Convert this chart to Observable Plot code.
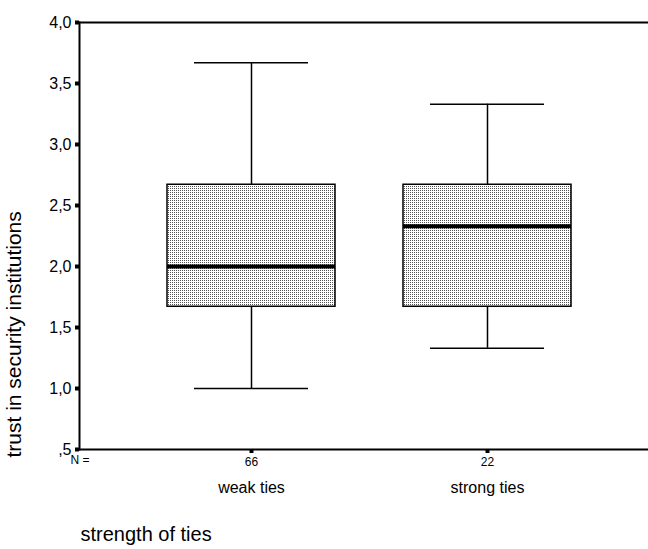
<!DOCTYPE html>
<html>
<head>
<meta charset="utf-8">
<script src="https://cdn.jsdelivr.net/npm/d3@7"></script>
<script src="https://cdn.jsdelivr.net/npm/@observablehq/plot@0.6"></script>
<style>
  html, body { margin: 0; background: white; overflow: hidden; }
  svg { overflow: hidden; }
</style>
</head>
<body>
<div id="chart"></div>
<script>
const categories = ["weak ties", "strong ties"];
const counts = [66, 22];
const lowWhisker = [1.0, 1.33];
const q1 = [1.67, 1.67];
const median = [2.0, 2.33];
const q3 = [2.67, 2.67];
const highWhisker = [3.67, 3.33];
const yTicks = [0.5, 1.0, 1.5, 2.0, 2.5, 3.0, 3.5, 4.0];
const yLabel = "trust in security institutions";
const xLabel = "strength of ties";
const nLabel = "N =";

const data = categories.map((c, i) => ({
  cat: c, n: counts[i], lo: lowWhisker[i], q1: q1[i], med: median[i], q3: q3[i], hi: highWhisker[i]
}));

const fmtY = d => {
  const s = d3.format(".1f")(d).replace(".", ",");
  return s.startsWith("0") ? s.slice(1) : s;
};

const chart = Plot.plot({
  width: 648,
  height: 549,
  marginLeft: 79,
  marginRight: 0,
  marginTop: 22,
  marginBottom: 100,
  style: { fontFamily: "'Liberation Sans', Arial, sans-serif", fontSize: "16px", background: "white", color: "black", overflow: "hidden" },
  x: { type: "band", domain: categories, range: [79, 658], paddingInner: 0.29, paddingOuter: 0.367 },
  y: { domain: [0.5, 4.0] },
  marks: [
    Plot.ruleY([0.5, 4.0], { stroke: "black", strokeWidth: 2 }),
    Plot.frame({ anchor: "left", stroke: "black", strokeWidth: 2 }),
    Plot.ruleX(data, { x: "cat", y1: "q3", y2: "hi", stroke: "black", strokeWidth: 1.5 }),
    Plot.ruleX(data, { x: "cat", y1: "lo", y2: "q1", stroke: "black", strokeWidth: 1.5 }),
    Plot.tickY(data, { x: "cat", y: "hi", insetLeft: 27, insetRight: 27, stroke: "black", strokeWidth: 1.5 }),
    Plot.tickY(data, { x: "cat", y: "lo", insetLeft: 27, insetRight: 27, stroke: "black", strokeWidth: 1.5 }),
    Plot.barY(data, { x: "cat", y1: "q1", y2: "q3", fill: "url(#stipple)", stroke: "black", strokeWidth: 1.5 }),
    Plot.tickY(data, { x: "cat", y: "med", stroke: "black", strokeWidth: 4 }),
    Plot.axisY({ ticks: yTicks, tickFormat: fmtY, tickSize: 4, tickPadding: 4, strokeWidth: 4, fontSize: 16, label: null }),
    Plot.axisX({ tickFormat: c => counts[categories.indexOf(c)], tickSize: 4, tickPadding: 4, strokeWidth: 4, fontSize: 12, label: null }),
    Plot.axisX({ tickSize: 0, tickPadding: 32, fontSize: 16, label: null }),
    Plot.text([nLabel], { frameAnchor: "bottom-left", textAnchor: "start", dx: -9, dy: 14, fontSize: 12, fill: "black" }),
    Plot.text([xLabel], { frameAnchor: "bottom-left", textAnchor: "start", dx: 1, dy: 91, fontSize: 20, fill: "black" }),
    Plot.text([yLabel], { frameAnchor: "bottom-left", textAnchor: "start", rotate: -90, dx: -59, dy: 8, fontSize: 21, fill: "black" })
  ]
});

// stipple pattern for the box fill
const ns = "http://www.w3.org/2000/svg";
const defs = document.createElementNS(ns, "defs");
const pat = document.createElementNS(ns, "pattern");
pat.setAttribute("id", "stipple");
pat.setAttribute("width", "2");
pat.setAttribute("height", "2");
pat.setAttribute("patternUnits", "userSpaceOnUse");
[["0", "0", "2", "2", "#ffffff"], ["0", "0", "1", "1", "#555555"]].forEach(([x, y, w, h, f]) => {
  const r = document.createElementNS(ns, "rect");
  r.setAttribute("x", x); r.setAttribute("y", y);
  r.setAttribute("width", w); r.setAttribute("height", h);
  r.setAttribute("fill", f);
  pat.appendChild(r);
});
defs.appendChild(pat);
chart.insertBefore(defs, chart.firstChild);

document.getElementById("chart").appendChild(chart);
</script>
</body>
</html>
